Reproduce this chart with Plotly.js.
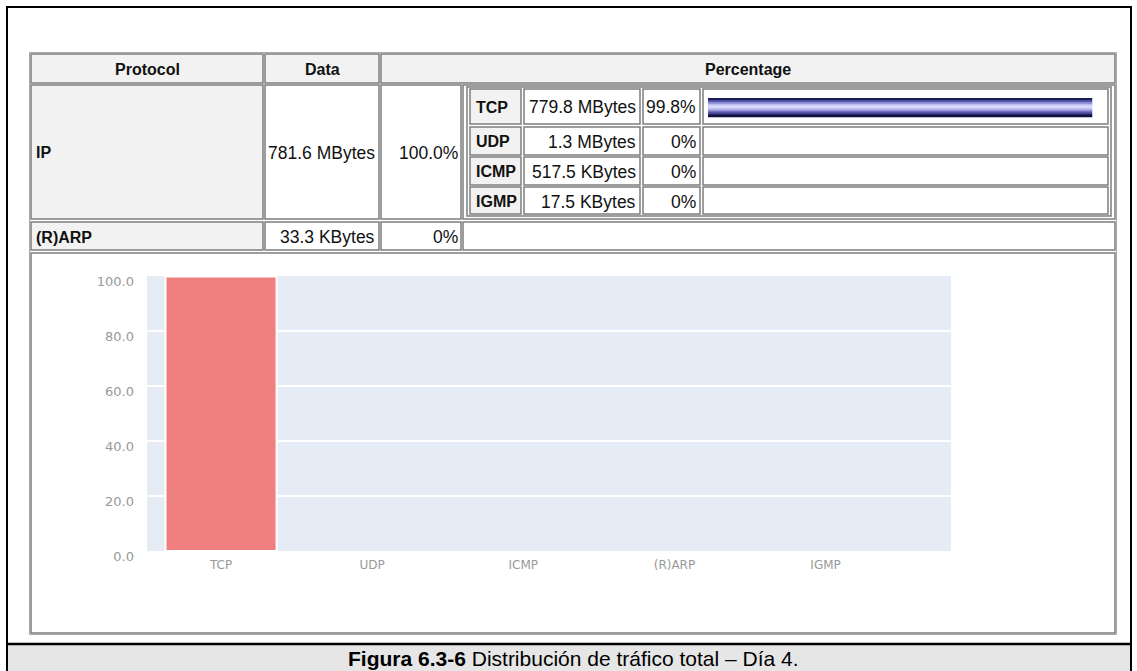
<!DOCTYPE html>
<html>
<head>
<meta charset="utf-8">
<script src="https://cdn.plot.ly/plotly-3.0.1.min.js"></script>
<style>
html,body{margin:0;padding:0;background:#fff;overflow:hidden;}
#chart{width:1137px;height:671px;}
</style>
</head>
<body>
<div id="chart"></div>
<script>
// ---- data ----
var headerLabels = ['Protocol', 'Data', 'Percentage'];
var topProtocols = ['IP', '(R)ARP'];
var topData = ['781.6 MBytes', '33.3 KBytes'];
var topPercent = ['100.0%', '0%'];
var ipProtocols = ['TCP', 'UDP', 'ICMP', 'IGMP'];
var ipData = ['779.8 MBytes', '1.3 MBytes', '517.5 KBytes', '17.5 KBytes'];
var ipPercent = [99.8, 0, 0, 0];
var chartCategories = ['TCP', 'UDP', 'ICMP', '(R)ARP', 'IGMP'];
var chartValues = [99.8, 0, 0, 0, 0];
var yTickValues = [0, 20, 40, 60, 80, 100];
var captionBold = 'Figura 6.3-6';
var captionText = 'Distribución de tráfico total – Día 4.';

// ---- helpers (pixel -> paper) ----
var W = 1137, H = 671;
function px(x){ return x / W; }
function py(y){ return 1 - y / H; }
var shapes = [], annotations = [];
function rect(x0, y0, x1, y1, fill, line, lw){
  shapes.push({type:'rect', xref:'paper', yref:'paper', layer:'below',
    x0:px(x0), x1:px(x1), y0:py(y1), y1:py(y0),
    fillcolor: fill || 'rgba(0,0,0,0)',
    line:{color: line || 'rgba(0,0,0,0)', width: lw === undefined ? 0 : lw}});
}
function cell(x0, y0, x1, y1, fill){
  rect(x0, y0, x1, y1, fill, '#7d7d7d', 1.5);
}
function label(x, y, text, anchor, bold, size, color, family){
  annotations.push({xref:'paper', yref:'paper', x:px(x), y:py(y),
    xanchor: anchor, yanchor:'middle', showarrow:false,
    text: bold ? '<b>' + text + '</b>' : text,
    font:{family: family || 'Liberation Sans, Arial, sans-serif', size: size || (bold ? 16 : 17.5), color: color || '#111'}});
}

// ---- outer frame & caption ----
rect(7, 7, 1131, 672, null, '#000000', 2);
rect(8, 645, 1130, 671, '#e6e6e6', null, 0);
shapes.push({type:'line', xref:'paper', yref:'paper', x0:px(7), x1:px(1131), y0:py(644), y1:py(644), line:{color:'#000', width:2.5}});

// ---- table ----
rect(29.5, 52.5, 1116.5, 634.5, null, '#a8a8a8', 1);
var colX = [[31, 263], [265, 379], [381, 1115]];
var rowHeader = [54, 83];
for (var i = 0; i < headerLabels.length; i++){
  cell(colX[i][0], rowHeader[0], colX[i][1], rowHeader[1], '#f2f2f2');
  label((colX[i][0] + colX[i][1]) / 2, 69, headerLabels[i], 'center', true, 16);
}
var topRows = [[85, 219], [222, 250]];
for (var r = 0; r < topProtocols.length; r++){
  var y0 = topRows[r][0], y1 = topRows[r][1], yc = (y0 + y1) / 2 + 1;
  cell(31, y0, 263, y1, '#f2f2f2');
  cell(265, y0, 379, y1, null);
  cell(381, y0, 461, y1, null);
  cell(463, y0, 1115, y1, null);
  label(34, yc, topProtocols[r], 'left', true, 16);
  label(377, yc, topData[r], 'right', false);
  label(460, yc, topPercent[r], 'right', false);
}
// nested IP table
rect(467, 87, 1111, 216, null, '#7d7d7d', 1.5);
var nestRows = [[89, 124], [127, 155], [157, 185], [187, 214]];
var barStripes = ['#1c1c58', '#4a4aa0', '#8a8ad4', '#bcbcf0', '#dcdcff', '#c4c4f2', '#9494da', '#5656ac', '#262670', '#12123e'];
for (var k = 0; k < ipProtocols.length; k++){
  var ra = nestRows[k][0], rb = nestRows[k][1], rc = (ra + rb) / 2 + 1;
  cell(470, ra, 521, rb, '#f2f2f2');
  cell(524, ra, 640, rb, null);
  cell(643, ra, 700, rb, null);
  cell(703, ra, 1108, rb, null);
  label(474, rc, ipProtocols[k], 'left', true, 16);
  label(638, rc, ipData[k], 'right', false);
  label(698, rc, (ipPercent[k] > 0 ? ipPercent[k].toFixed(1) : '0') + '%', 'right', false);
  if (ipPercent[k] > 0){
    var barLen = 385 * ipPercent[k] / 100;
    var barTop = 98;
    for (var s = 0; s < barStripes.length; s++){
      rect(708, barTop + s * 1.9, 708 + barLen, barTop + (s + 1) * 1.9 + 0.3, barStripes[s], null, 0);
    }
  }
}
// chart cell
cell(31, 253, 1115, 633, null);

// caption
annotations.push({xref:'paper', yref:'paper', x:px(573), y:py(658), xanchor:'center', yanchor:'middle', showarrow:false,
  text:'<b>' + captionBold + '</b> ' + captionText,
  font:{family:'Liberation Sans, Arial, sans-serif', size:21, color:'#000'}});

// ---- chart ----
var trace = {
  type:'bar', x: chartCategories, y: chartValues,
  marker:{color:'#f08080', line:{color:'#ffffff', width: chartValues.map(function(v){ return v > 0 ? 2 : 0; })}},
  width: 0.735, hoverinfo:'none'
};
var layout = {
  width: W, height: H,
  margin:{l:0, r:0, t:0, b:0},
  paper_bgcolor:'#ffffff', plot_bgcolor:'#e6ecf5',
  showlegend:false,
  xaxis:{domain:[px(147), px(951)], anchor:'y', type:'category', range:[-0.49, 4.83],
    showgrid:false, zeroline:false, showline:false, ticks:'',
    ticklabelstandoff: 5,
    tickfont:{family:'DejaVu Sans, sans-serif', size:12, color:'#999999'}},
  yaxis:{domain:[py(551), py(276)], anchor:'x', range:[0, 100], tickvals: yTickValues,
    tickformat:'.1f', showgrid:true, gridcolor:'#ffffff', gridwidth:2.5, zeroline:false, showline:false, ticks:'',
    ticklabelstandoff: 12, ticklabelshift: 5,
    tickfont:{family:'DejaVu Sans, sans-serif', size:13, color:'#999999'}},
  shapes: shapes,
  annotations: annotations
};
Plotly.newPlot('chart', [trace], layout, {staticPlot:true, displayModeBar:false});
</script>
</body>
</html>
